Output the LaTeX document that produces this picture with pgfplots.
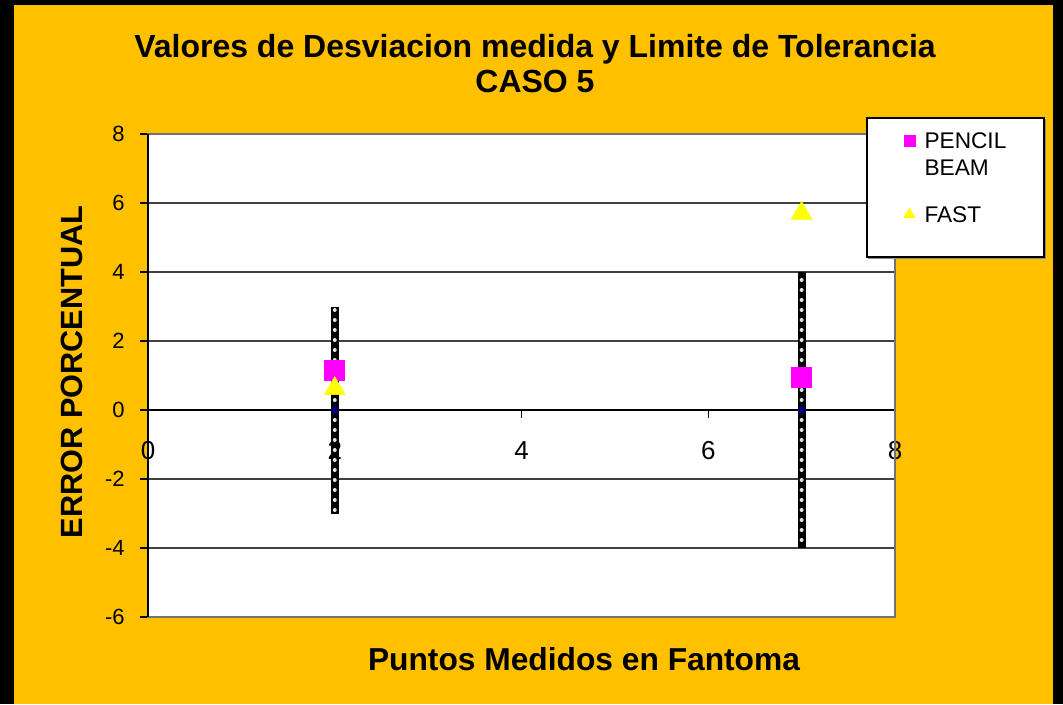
\documentclass[border=0pt]{standalone}
\usepackage{fontspec}
\setmainfont{Liberation Sans}
\usepackage{pgfplots}
\pgfplotsset{compat=1.18}
\definecolor{panel}{HTML}{FFC000}
\definecolor{pencil}{HTML}{FF00FF}
\definecolor{fast}{HTML}{FFFF00}
\definecolor{centre}{HTML}{000080}
\begin{document}
\begin{tikzpicture}
% canvas: black surround with the orange panel (pixel units)
\begin{scope}[x=0.75pt,y=0.75pt]
  \fill[black] (0,0) rectangle (1063,704);
  \fill[panel] (14,0) rectangle (1053,699);
  \node[anchor=base, font=\bfseries\fontsize{24}{24}\selectfont] at (535,646) {Valores de Desviacion medida y Limite de Tolerancia};
  \node[anchor=base, font=\bfseries\fontsize{24}{24}\selectfont] at (535,611) {CASO 5};
  \node[anchor=base, rotate=90, font=\bfseries\fontsize{23}{23}\selectfont] at (82,332) {ERROR PORCENTUAL};
  \node[anchor=base, font=\bfseries\fontsize{23.8}{23.8}\selectfont] at (584,34) {Puntos Medidos en Fantoma};
\end{scope}
\begin{axis}[
  at={(111pt,65.25pt)}, anchor=south west,
  scale only axis, width=560.25pt, height=362.25pt,
  xmin=0, xmax=8, ymin=-6, ymax=8,
  axis x line*=middle, axis y line*=left,
  hide obscured x ticks=false,
  axis line style={-, black, line width=1pt},
  xtick={0,2,4,6,8}, ytick={-6,-4,-2,0,2,4,6,8},
  tick align=outside, major tick length=6pt,
  tick style={black, line width=0.8pt},
  ymajorgrids, grid style={black!75, line width=0.8pt},
  axis background/.style={fill=white},
  /pgf/number format/assume math mode=true,
  x tick label style={font=\fontsize{19.5}{19.5}\selectfont, yshift=-14pt},
  y tick label style={font=\fontsize{16.5}{16.5}\selectfont, xshift=-8pt},
  clip=false,
  legend style={at={(1.006,1.02)}, anchor=north west, draw=none, fill=none,
    font=\fontsize{17}{20.25}\selectfont, cells={anchor=base west},
    row sep=38pt, column sep=5pt},
  legend image post style={yshift=6pt, scale=0.55},
]
% plot-area frame
\draw[black!55, line width=1pt] (rel axis cs:0,0) rectangle (rel axis cs:1,1);
\draw[black, line width=1pt] (rel axis cs:0,0) -- (rel axis cs:0,1);
% tolerance limits: thick black bars with white dots
\addplot[forget plot, draw=none, mark=none,
  error bars/.cd, y dir=both, y explicit, error mark=none,
  error bar style={draw=black, line width=6pt}]
  coordinates {(2,0) +- (0,3) (7,0) +- (0,4)};
\addplot[forget plot, draw=none, mark=*, mark size=2.6pt, mark options={fill=centre, draw=centre},
  error bars/.cd, y dir=both, y explicit, error mark=none,
  error bar style={draw=white!90!black, line width=3pt, line cap=round, dash pattern=on 0pt off 7.5pt}]
  coordinates {(2,0) +- (0,3) (7,0) +- (0,4)};
% measured deviations
\addplot[only marks, mark=square*, mark size=7.5pt, mark options={fill=pencil, draw=pencil}]
  coordinates {(2,1.16) (7,0.94)};
\addlegendentry{\begin{tabular}[t]{@{}l@{}}PENCIL\\BEAM\end{tabular}}
\addplot[only marks, mark=triangle*, mark size=9pt, mark options={fill=fast, draw=fast}]
  coordinates {(2,0.62) (7,5.7)};
\addlegendentry{FAST}
% legend box with a soft shadow
\draw[black!45, line width=1.2pt] ([shift={(1.2pt,-1.2pt)}]rel axis cs:0.9625,1.0331) rectangle ([shift={(1.2pt,-1.2pt)}]rel axis cs:1.1995,0.7453);
\draw[black, line width=0.8pt, fill=white] (rel axis cs:0.9625,1.0331) rectangle (rel axis cs:1.1995,0.7453);
\end{axis}
\end{tikzpicture}
\end{document}
